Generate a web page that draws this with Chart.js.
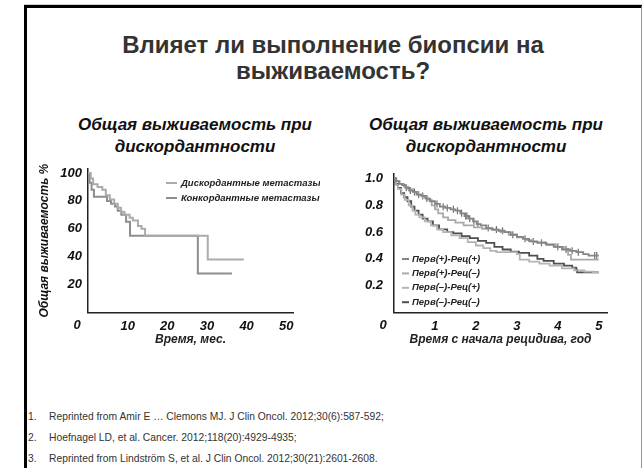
<!DOCTYPE html>
<html>
<head>
<meta charset="utf-8">
<script src="https://cdn.jsdelivr.net/npm/chart.js@4.4.1/dist/chart.umd.min.js"></script>
<style>
  body { margin: 0; width: 642px; height: 468px; overflow: hidden; background: #fff; position: relative;
         font-family: "Liberation Sans", Arial, sans-serif; }
  .edge { position: absolute; left: 24px; top: 4px; right: 0; height: 1px; background: #d0d0d0; }
  .frame { position: absolute; left: 24px; top: 5px; width: 618px; height: 480px; box-sizing: border-box;
           border-left: 3px solid #000; border-top: 3px solid #000; border-right: 1px solid #999; }
  h1 { position: absolute; left: 24px; right: 0; top: 32px; margin: 0; text-align: center;
       font-size: 24px; line-height: 26px; font-weight: bold; color: #333; }
  .sub { position: absolute; top: 114px; width: 300px; text-align: center; color: #111;
         font: italic bold 17px/22px "Liberation Sans", Arial, sans-serif; }
  canvas { position: absolute; }
  .refs { position: absolute; left: 0; top: 406px; font-size: 10.3px; line-height: 21px; color: #333; }
  .refs div { position: relative; padding-left: 49px; white-space: nowrap; }
  .refs span { position: absolute; left: 28px; }
</style>
</head>
<body>
<div class="edge"></div>
<div class="frame"></div>
<h1>Влияет ли выполнение биопсии на<br>выживаемость?</h1>

<div class="sub" style="left:45px">Общая выживаемость при<br>дискордантности</div>
<div class="sub" style="left:336px">Общая выживаемость при<br>дискордантности</div>

<canvas id="left" width="300" height="205" style="left:20px;top:155px"></canvas>
<canvas id="right" width="300" height="205" style="left:330px;top:155px"></canvas>

<div class="refs">
  <div><span>1.</span>Reprinted from Amir E … Clemons MJ. J Clin Oncol. 2012;30(6):587-592;</div>
  <div><span>2.</span>Hoefnagel LD, et al. Cancer. 2012;118(20):4929-4935;</div>
  <div><span>3.</span>Reprinted from Lindström S, et al. J Clin Oncol. 2012;30(21):2601-2608.</div>
</div>

<script>
// --- левый график: выживаемость, % по месяцам ---
var monthTicks = [0, 10, 20, 30, 40, 50];
var pctTicks = [20, 40, 60, 80, 100];
var seriesLeft = ['Дискордантные метастазы', 'Конкордантные метастазы'];
var discordant = [[0,100],[0.7,96],[1.3,92],[2.4,90],[3.6,88],[4.5,84],[5.5,81],[6.6,78],[7.5,75],
  [8.3,72],[9.2,70],[10.5,68],[11.3,66],[12.6,62],[13.5,60],[14.4,55],[30.2,38],[39.3,38]];
var concordant = [[0,100],[0.4,93],[0.9,88],[1.5,83],[4.2,83],[4.8,80],[5.8,78],[6.8,76],[7.5,73],
  [8.4,70],[9.6,65],[10.6,55],[27.7,28],[36.3,28]];

// --- правый график: доля выживших по годам от рецидива ---
var yearTicks = [0, 1, 2, 3, 4, 5];
var fracTicks = [0.2, 0.4, 0.6, 0.8, 1.0];
var seriesRight = ['Перв(+)-Рец(+)', 'Перв(+)-Рец(–)', 'Перв(–)-Рец(+)', 'Перв(–)-Рец(–)'];
var posPos = [[0,1],[0.05,0.98],[0.12,0.96],[0.2,0.95],[0.28,0.93],[0.37,0.91],[0.47,0.9],[0.55,0.88],
  [0.66,0.87],[0.77,0.85],[0.88,0.83],[1.0,0.81],[1.12,0.79],[1.25,0.78],[1.38,0.77],[1.5,0.76],
  [1.62,0.74],[1.72,0.72],[1.82,0.7],[1.93,0.68],[2.02,0.66],[2.12,0.65],[2.25,0.63],[2.4,0.62],
  [2.55,0.61],[2.7,0.6],[2.85,0.58],[3.0,0.565],[3.15,0.55],[3.3,0.53],[3.5,0.52],[3.72,0.505],
  [3.9,0.49],[4.1,0.47],[4.3,0.46],[4.45,0.45],[4.62,0.435],[4.75,0.425],[5.0,0.425]];
// цензурированные наблюдения (засечки) на кривой Перв(+)-Рец(+)
var posPosCensored = [[0.3,0.93],[0.4,0.91],[0.5,0.9],[0.6,0.88],[0.7,0.87],[0.8,0.85],[1.05,0.81],
  [1.2,0.79],[1.3,0.78],[1.45,0.77],[1.55,0.76],[1.65,0.74],[1.75,0.72],[1.78,0.72],[1.85,0.7],
  [1.95,0.68],[2.05,0.66],[2.3,0.63],[2.5,0.62],[2.65,0.61],[2.9,0.58],[3.2,0.55],[3.4,0.53],
  [3.6,0.52],[4.0,0.49],[4.2,0.47],[4.35,0.46],[4.5,0.45],[4.9,0.425],[4.95,0.425]];
var posNeg = [[0,1],[0.06,0.98],[0.14,0.96],[0.24,0.94],[0.35,0.92],[0.46,0.9],[0.58,0.88],[0.7,0.86],
  [0.82,0.84],[0.92,0.8],[1.0,0.77],[1.08,0.74],[1.2,0.71],[1.32,0.69],[1.5,0.67],[1.7,0.65],
  [1.95,0.635],[2.15,0.625],[2.4,0.615],[2.6,0.6],[2.8,0.58],[3.0,0.56],[3.2,0.54],[3.4,0.525],
  [3.7,0.51],[3.95,0.49],[4.15,0.475],[4.25,0.43],[4.32,0.395],[5.0,0.395]];
var negPos = [[0,1],[0.05,0.95],[0.1,0.92],[0.18,0.88],[0.26,0.84],[0.36,0.8],[0.45,0.76],[0.52,0.73],
  [0.62,0.71],[0.75,0.68],[0.9,0.65],[1.05,0.62],[1.2,0.6],[1.4,0.575],[1.6,0.555],[1.8,0.525],
  [2.0,0.5],[2.18,0.48],[2.35,0.46],[2.5,0.45],[3.0,0.435],[3.07,0.395],[3.3,0.38],[3.55,0.365],
  [3.8,0.35],[4.1,0.33],[4.4,0.315],[4.65,0.305],[4.85,0.3],[5.0,0.3]];
var negNeg = [[0,1],[0.04,0.96],[0.1,0.93],[0.17,0.89],[0.25,0.86],[0.33,0.83],[0.42,0.79],[0.5,0.76],
  [0.6,0.73],[0.7,0.7],[0.82,0.68],[0.95,0.65],[1.1,0.62],[1.3,0.6],[1.45,0.59],[1.65,0.57],
  [1.85,0.555],[2.05,0.535],[2.25,0.52],[2.45,0.49],[2.65,0.47],[2.85,0.455],[3.05,0.445],[3.3,0.425],
  [3.5,0.4],[3.65,0.385],[3.9,0.365],[4.15,0.35],[4.35,0.335],[4.45,0.32],[4.47,0.3],[5.0,0.3]];

var FONT = '"Liberation Sans", Arial, sans-serif';

function pts(arr) {
  return arr.map(function(p) { return { x: p[0], y: p[1] }; });
}

function curve(label, arr, color, width) {
  return {
    label: label,
    data: pts(arr),
    borderColor: color,
    borderWidth: width,
    stepped: true,
    pointRadius: 0,
    fill: false
  };
}

// легенда рисуется прямо внутри области графика
var inlineLegend = {
  id: 'inlineLegend',
  afterDraw: function(chart, args, o) {
    var ctx = chart.ctx;
    ctx.save();
    ctx.font = 'italic bold ' + o.size + 'px ' + FONT;
    ctx.textBaseline = 'middle';
    ctx.textAlign = 'left';
    var row = 0;
    chart.data.datasets.forEach(function(ds) {
      if (!ds.label) return;
      var y = o.y + row * o.rowH;
      ctx.strokeStyle = ds.borderColor;
      ctx.lineWidth = 2;
      ctx.beginPath();
      ctx.moveTo(o.x, y);
      ctx.lineTo(o.x + o.lineW, y);
      ctx.stroke();
      ctx.fillStyle = '#222';
      ctx.fillText(ds.label, o.x + o.lineW + o.gap, y);
      row++;
    });
    ctx.restore();
  }
};

// подпись нуля оси X вынесена левее начала координат
var zeroLabel = {
  id: 'zeroLabel',
  afterDraw: function(chart, args, o) {
    var xs = chart.scales.x;
    var ctx = chart.ctx;
    ctx.save();
    ctx.font = 'italic bold 13px ' + FONT;
    ctx.fillStyle = '#111';
    ctx.textAlign = 'center';
    ctx.textBaseline = 'middle';
    ctx.fillText(String(o.value), xs.getPixelForValue(o.value) - o.shift, xs.top + o.dy);
    ctx.restore();
  }
};

function makeChart(id, datasets, cfg) {
  return new Chart(document.getElementById(id), {
    type: 'line',
    data: { datasets: datasets },
    plugins: [inlineLegend, zeroLabel],
    options: {
      responsive: false,
      animation: false,
      layout: { padding: { top: 10, right: cfg.padRight, left: 0, bottom: 0 } },
      plugins: {
        legend: { display: false },
        tooltip: { enabled: false },
        inlineLegend: cfg.legend,
        zeroLabel: { value: cfg.xTicks[0], shift: 11, dy: 12.5 }
      },
      scales: {
        x: {
          type: 'linear',
          min: 0,
          max: cfg.xMax,
          afterFit: function(s) { s.height = 47.5; },
          afterBuildTicks: function(s) {
            s.ticks = cfg.xTicks.slice(1).map(function(v) { return { value: v }; });
          },
          grid: { display: false, drawTicks: false },
          border: { display: true, color: '#222', width: 1.5 },
          ticks: { padding: 6, color: '#111', font: { family: FONT, size: 13, style: 'italic', weight: 'bold' } },
          title: {
            display: true,
            text: cfg.xTitle,
            color: '#222',
            font: { family: FONT, size: 12, style: 'italic', weight: 'bold', lineHeight: 1.2 },
            padding: { top: 0, bottom: 12.8 }
          }
        },
        y: {
          min: 0,
          max: cfg.yMax,
          afterFit: function(s) { s.width = cfg.yWidth; },
          afterBuildTicks: function(s) {
            s.ticks = cfg.yTicks.map(function(v) { return { value: v }; });
          },
          grid: { display: false, drawTicks: false },
          border: { display: true, color: '#222', width: 1.5 },
          ticks: {
            padding: cfg.yPad,
            color: '#111',
            font: { family: FONT, size: 13, style: 'italic', weight: 'bold' },
            callback: cfg.yFormat
          },
          title: {
            display: !!cfg.yTitle,
            text: cfg.yTitle,
            color: '#111',
            font: { family: FONT, size: 12, style: 'italic', weight: 'bold', lineHeight: 1.2 },
            padding: { top: 17.8, bottom: 0 }
          }
        }
      }
    }
  });
}

makeChart('left', [
  curve(seriesLeft[0], discordant, '#ababab', 2),
  curve(seriesLeft[1], concordant, '#8e8e8e', 2)
], {
  xTicks: monthTicks, xMax: 51.7, xTitle: 'Время, мес.',
  yTicks: pctTicks, yMax: 103, yWidth: 68, yPad: 6, yTitle: 'Общая выживаемость %',
  yFormat: function(v) { return v; },
  padRight: 27,
  legend: { x: 146, y: 28, rowH: 15, lineW: 11, gap: 4, size: 9.5 }
});

var censorSet = {
  data: pts(posPosCensored),
  showLine: false,
  pointStyle: 'line',
  rotation: 90,
  pointRadius: 3.5,
  borderColor: '#6f6f6f',
  borderWidth: 1.2
};

makeChart('right', [
  curve(seriesRight[0], posPos, '#848484', 1.8),
  curve(seriesRight[1], posNeg, '#a9a9a9', 1.8),
  curve(seriesRight[2], negPos, '#b4b4b4', 1.8),
  curve(seriesRight[3], negNeg, '#4f4f4f', 1.8),
  censorSet
], {
  xTicks: yearTicks, xMax: 5.2, xTitle: 'Время с начала рецидива, год',
  yTicks: fracTicks, yMax: 1.035, yWidth: 64, yPad: 11, yTitle: '',
  yFormat: function(v) { return v.toFixed(1); },
  padRight: 23,
  legend: { x: 72, y: 104, rowH: 14.4, lineW: 7, gap: 3, size: 9.5 }
});
</script>
</body>
</html>
